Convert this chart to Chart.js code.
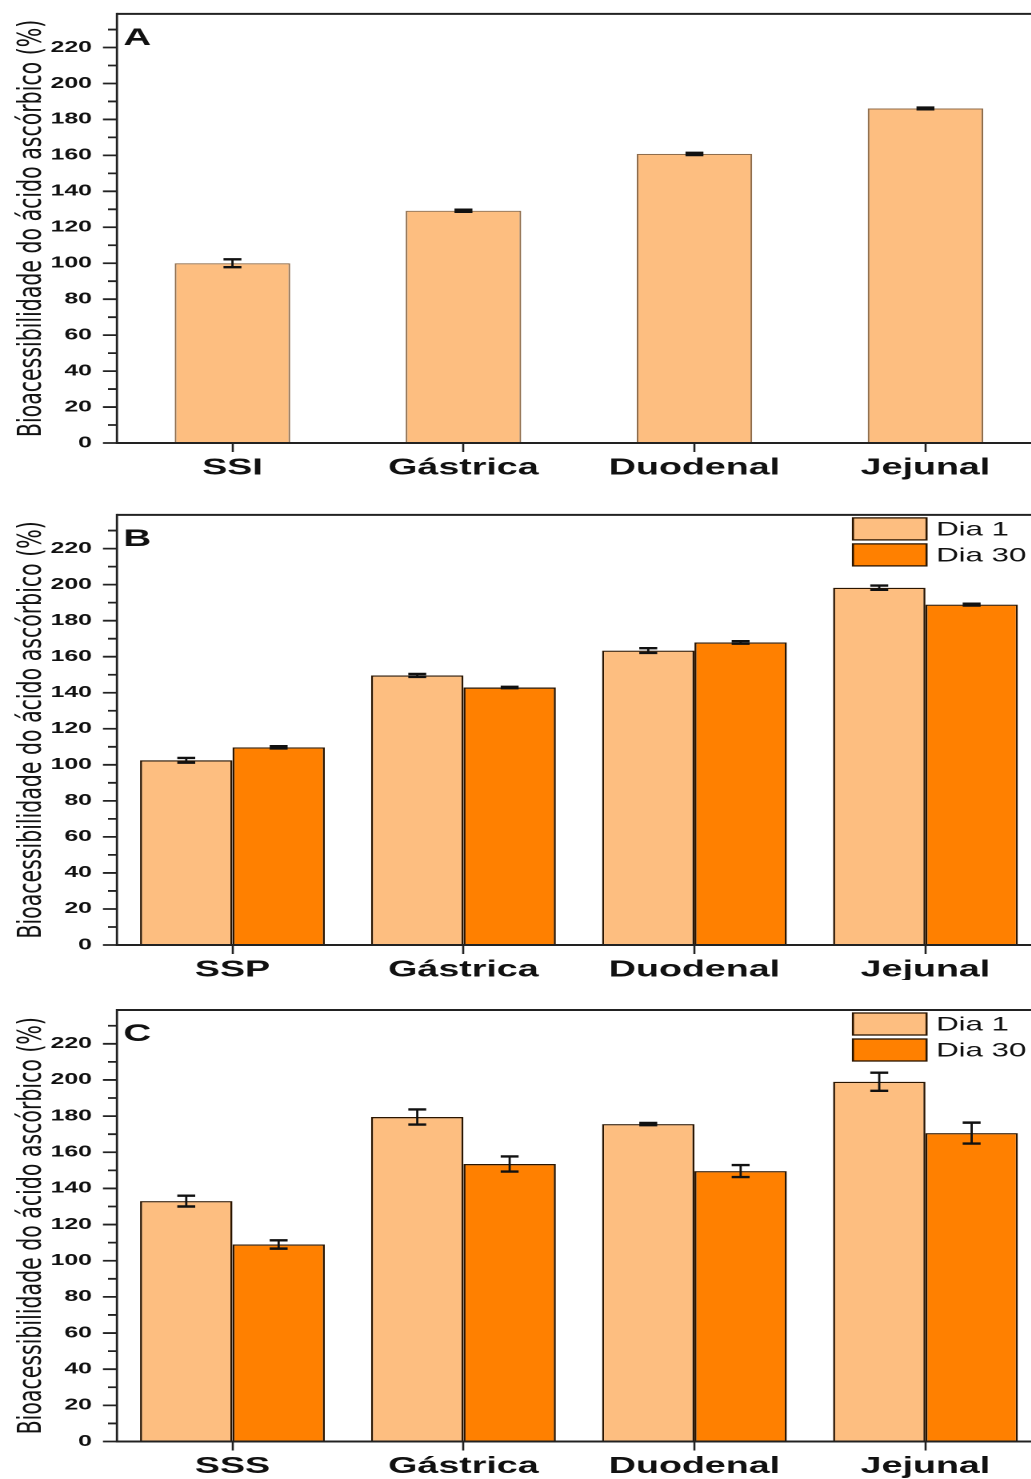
<!DOCTYPE html>
<html><head><meta charset="utf-8">
<script src="https://cdn.jsdelivr.net/npm/chart.js@4.4.1/dist/chart.umd.min.js"></script>
<style>
html,body{margin:0;padding:0;overflow:hidden;background:#fff;width:1031px;height:1479px;}
.panel{position:absolute;left:0;transform-origin:0 0;transform:scaleX(1.6);}
</style></head><body>
<div class="panel" style="top:-11px"><canvas id="cA" width="653" height="501"></canvas></div>
<div class="panel" style="top:490px"><canvas id="cB" width="653" height="490"></canvas></div>
<div class="panel" style="top:980px"><canvas id="cC" width="653" height="499"></canvas></div>
<script>
// ---- data ----
const catsA = ['SSI', 'Gástrica', 'Duodenal', 'Jejunal'];
const catsB = ['SSP', 'Gástrica', 'Duodenal', 'Jejunal'];
const catsC = ['SSS', 'Gástrica', 'Duodenal', 'Jejunal'];
const seriesLabels = ['Dia 1', 'Dia 30'];
const valuesA = [100, 129.2, 160.8, 186.1];
const errorsA = [2.2, 0.6, 0.6, 0.5];
const dia1B = [102.5, 149.6, 163.4, 198.3];
const errDia1B = [1.3, 0.8, 1.3, 1.2];
const dia30B = [109.7, 142.9, 167.9, 188.9];
const errDia30B = [0.6, 0.4, 0.7, 0.5];
const dia1C = [133.0, 179.5, 175.6, 199.0];
const errDia1C = [3.0, 4.2, 0.6, 5.0];
const dia30C = [109.0, 153.5, 149.6, 170.6];
const errDia30C = [2.3, 4.2, 3.3, 5.8];
const yMax = 238.7;
const yMajorStep = 20;
const yMinorStep = 10;
const yTitle = 'Bioacessibilidade do ácido ascórbico (%)';

// ---- styling ----
const LIGHT = '#FDBE80', DARK = '#FF8000';
const FONT = 'Liberation Sans, Arial, sans-serif';
Chart.defaults.font.family = FONT;

const decor = {
  id: 'decor',
  afterDatasetsDraw(chart) {
    const ctx = chart.ctx, y = chart.scales.y;
    chart.data.datasets.forEach((ds, di) => {
      const meta = chart.getDatasetMeta(di);
      (ds.errors || []).forEach((e, i) => {
        const el = meta.data[i];
        const v = ds.data[i];
        const x = el.x;
        const yt = y.getPixelForValue(v + e), yb = y.getPixelForValue(v - e);
        const hw = 5.6;
        ctx.save();
        ctx.strokeStyle = '#111';
        ctx.lineWidth = 1.4;
        ctx.beginPath(); ctx.moveTo(x, yt); ctx.lineTo(x, yb); ctx.stroke();
        ctx.lineWidth = 2.4;
        ctx.beginPath();
        ctx.moveTo(x - hw, yt); ctx.lineTo(x + hw, yt);
        ctx.moveTo(x - hw, yb); ctx.lineTo(x + hw, yb);
        ctx.stroke();
        ctx.restore();
      });
    });
  },
  afterDraw(chart, args, opts) {
    const ctx = chart.ctx, ca = chart.chartArea, y = chart.scales.y;
    ctx.save();
    ctx.strokeStyle = '#222';
    // frame
    ctx.lineWidth = 2;
    ctx.beginPath();
    ctx.moveTo(ca.left, ca.top); ctx.lineTo(ca.right, ca.top);
    ctx.moveTo(ca.left, ca.bottom); ctx.lineTo(ca.right, ca.bottom);
    ctx.stroke();
    ctx.lineWidth = 1.4;
    ctx.beginPath();
    ctx.moveTo(ca.left, ca.top - 1); ctx.lineTo(ca.left, ca.bottom + 1);
    ctx.moveTo(ca.right, ca.top - 1); ctx.lineTo(ca.right, ca.bottom + 1);
    ctx.stroke();
    // y ticks major/minor
    ctx.lineWidth = 1.8;
    ctx.beginPath();
    for (let v = 0; v <= yMax; v += yMinorStep) {
      const len = (v % yMajorStep === 0) ? 8.75 : 5.6;
      const py = y.getPixelForValue(v);
      ctx.moveTo(ca.left - len, py); ctx.lineTo(ca.left, py);
    }
    ctx.stroke();
    // panel letter
    ctx.fillStyle = '#111';
    ctx.font = 'bold 24px ' + FONT;
    ctx.textBaseline = 'alphabetic';
    ctx.textAlign = 'left';
    ctx.fillText(opts.letter, ca.left + 4, ca.top + 31);
    // legend
    if (opts.legend) {
      chart.data.datasets.forEach((ds, i) => {
        const bx = ca.right - 117.5, by = ca.top + 3 + i * 26, bw = 46, bh = 22;
        ctx.fillStyle = ds.backgroundColor;
        ctx.fillRect(bx, by, bw, bh);
        ctx.strokeStyle = '#2a1500';
        ctx.lineWidth = 1.3;
        ctx.strokeRect(bx, by, bw, bh);
        ctx.fillStyle = '#111';
        ctx.font = '19.5px ' + FONT;
        ctx.textBaseline = 'middle';
        ctx.fillText(ds.label, bx + bw + 6, by + bh / 2 + 1);
      });
    }
    ctx.restore();
  }
};

function makeChart(id, cats, datasets, letter, legend, padTop, xh, grouped) {
  return new Chart(document.getElementById(id), {
    type: 'bar',
    data: { labels: cats, datasets: datasets },
    plugins: [decor],
    options: {
      responsive: false,
      animation: false,
      devicePixelRatio: 2,
      layout: { padding: { top: padTop, right: 2.4, left: 0, bottom: 0 } },
      datasets: { bar: grouped ? { barPercentage: 1, categoryPercentage: 0.8 } : { barPercentage: 0.5, categoryPercentage: 1 } },
      plugins: { legend: { display: false }, tooltip: { enabled: false }, decor: { letter: letter, legend: legend } },
      scales: {
        x: {
          grid: { display: true, drawOnChartArea: false, drawTicks: true, tickLength: 9, tickWidth: 1.3, tickColor: '#222', offset: false },
          border: { display: false },
          ticks: { color: '#111', padding: 2, font: { family: FONT, weight: 'bold', size: 23.5 } },
          afterFit: s => { s.height = xh; }
        },
        y: {
          min: 0, max: yMax,
          grid: { display: false, drawTicks: false },
          border: { display: false },
          ticks: { stepSize: yMajorStep, padding: 15.6, color: '#111', font: { family: FONT, weight: 'bold', size: 15.5 } },
          afterBuildTicks: s => { s.ticks = s.ticks.filter(t => t.value % yMajorStep === 0); },
          afterFit: s => { s.width = 73.1; },
          title: { display: true, text: yTitle, color: '#111', font: { family: 'DejaVu Sans', size: 20.5 }, padding: { top: 8, bottom: 0 } }
        }
      }
    }
  });
}

makeChart('cA', catsA, [
  { label: 'SSI', data: valuesA, errors: errorsA, backgroundColor: LIGHT, borderColor: '#8f6d4c', borderWidth: 1.1 }
], 'A', false, 24, 47, false);

makeChart('cB', catsB, [
  { label: seriesLabels[0], data: dia1B, errors: errDia1B, backgroundColor: LIGHT, borderColor: '#2a1500', borderWidth: 1.3 },
  { label: seriesLabels[1], data: dia30B, errors: errDia30B, backgroundColor: DARK, borderColor: '#2a1500', borderWidth: 1.3 }
], 'B', true, 24, 35, true);

makeChart('cC', catsC, [
  { label: seriesLabels[0], data: dia1C, errors: errDia1C, backgroundColor: LIGHT, borderColor: '#2a1500', borderWidth: 1.3 },
  { label: seriesLabels[1], data: dia30C, errors: errDia30C, backgroundColor: DARK, borderColor: '#2a1500', borderWidth: 1.3 }
], 'C', true, 30, 37.5, true);
</script>
</body></html>
